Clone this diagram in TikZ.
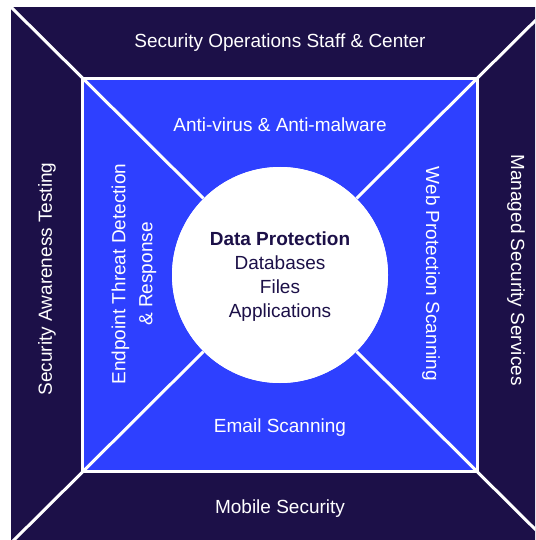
\documentclass[tikz,border=0pt]{standalone}
\usepackage{fontspec}
\setmainfont{Liberation Sans}
\usetikzlibrary{positioning}
\definecolor{navy_dark}{RGB}{28,16,72}
\definecolor{blue_mid}{RGB}{46,64,255}
\tikzset{
    layer/.style={
        rectangle, inner sep=0pt
    },
    divider/.style={
        draw=white, line width=3pt
    },
    tag/.style={
        text=white, align=center,
        font=\fontsize{19}{24}\selectfont
    }
}

\begin{document}
\begin{tikzpicture}[x=1pt, y=-1pt]
    \useasboundingbox (0,0) rectangle (535,540);
    \clip (0,0) rectangle (535,540);

    % --- Capa exterior (servicios) ---
    \node[layer, fill=navy_dark, minimum width=538pt, minimum height=536pt] (outer) at (280,275) {};

    % --- Capa interior (endpoint) ---
    \node[layer, fill=blue_mid, minimum width=394pt, minimum height=393pt] (inner) at (280,275) {};

    % --- Nucleo (datos) ---
    \node[circle, fill=white, minimum size=216pt, inner sep=0pt] (core) at (280,275) {};

    % ================= SEPARADORES =================
    \foreach \corner in {north west, north east, south west, south east} {
        \draw[divider] (outer.\corner) -- (inner.\corner);
        \draw[divider] (inner.\corner) -- (core.\corner);
    }
    \draw[divider] (inner.north west) rectangle (inner.south east);
    \node[circle, fill=white, minimum size=216pt, inner sep=0pt] at (core) {};

    % --- Etiquetas capa exterior ---
    \node[tag] (soc)    at (280,43)  {Security Operations Staff \& Center};
    \node[tag] (mobile) at (280,509) {Mobile Security};
    \node[tag, rotate=90]  (awareness) at (47,279)  {Security Awareness Testing};
    \node[tag, rotate=-90] (managed)   at (516,270) {Managed Security Services};

    % --- Etiquetas capa interior ---
    \node[tag] (antivirus) at (280,125) {Anti-virus \& Anti-malware};
    \node[tag] (email)     at (280,428) {Email Scanning};
    \node[tag, rotate=90]  (edr) at (134,274) {Endpoint Threat Detection\\[3pt]\& Response};
    \node[tag, rotate=-90] (web) at (431,274) {Web Protection Scanning};

    % --- Texto del nucleo ---
    \node[tag, text=navy_dark] (data) at (280,277)
        {\textbf{Data Protection}\\Databases\\Files\\Applications};
\end{tikzpicture}
\end{document}
